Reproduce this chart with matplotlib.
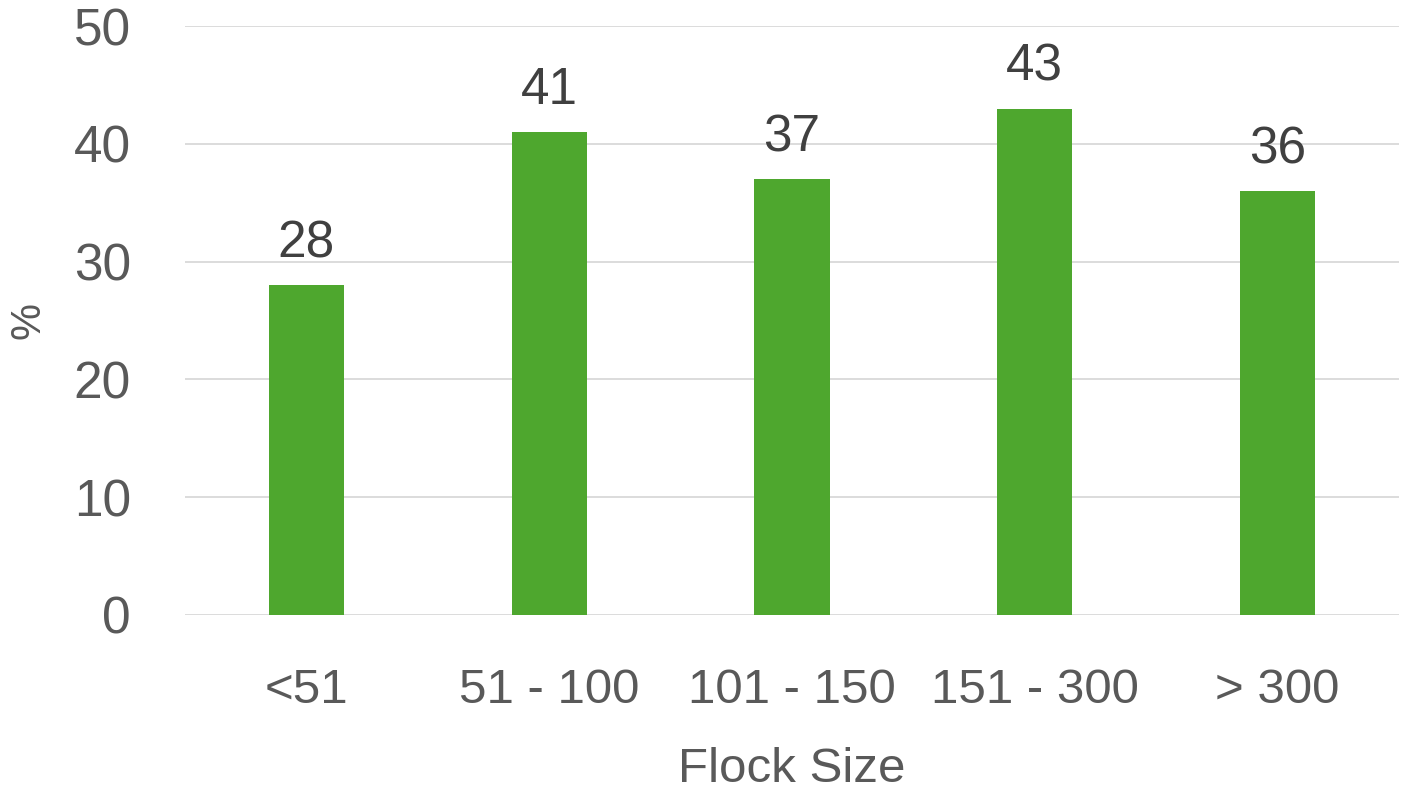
import matplotlib
matplotlib.use("Agg")
import matplotlib.pyplot as plt

categories = ["<51", "51 - 100", "101 - 150", "151 - 300", "> 300"]
values = [28, 41, 37, 43, 36]
yticks = [0, 10, 20, 30, 40, 50]

plt.rcParams['font.family'] = ['Liberation Sans', 'DejaVu Sans']
text_color = "#595959"
bar_color = "#4EA72E"

fig = plt.figure(figsize=(14.01, 7.92), dpi=100)
ax = fig.add_axes([0.132, 0.2235, 0.8666, 0.7435])
x = list(range(len(categories)))
bars = ax.bar(x, values, width=0.31, color=bar_color, zorder=3)
ax.set_xlim(-0.5, len(categories) - 0.5)
ax.set_ylim(0, 50)
ax.set_yticks(yticks)
ax.set_xticks(x)
ax.set_xticklabels(categories)
ax.grid(axis='y', color="#D9D9D9", linewidth=1.3, zorder=0)
for s in ax.spines.values():
    s.set_visible(False)
ax.tick_params(axis='both', length=0, colors=text_color)
ax.tick_params(axis='y', pad=39, labelsize=37)
ax.tick_params(axis='x', pad=38, labelsize=35.5)
for xi, v in zip(x, values):
    ax.annotate(str(v), (xi, v), xytext=(0, 12), textcoords='offset points',
                ha='center', va='bottom', fontsize=37, color="#404040")
ax.set_xlabel("Flock Size", fontsize=35.5, color=text_color, labelpad=25)
ax.set_ylabel("%", fontsize=30, color=text_color, labelpad=18)
fig.savefig("out.png", dpi=100)
